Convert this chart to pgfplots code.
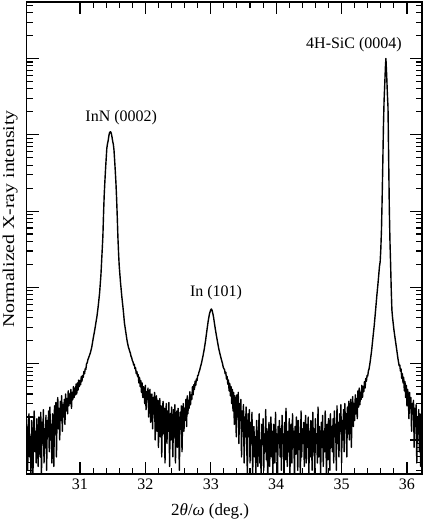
\documentclass[border=0pt]{standalone}
\usepackage{pgfplots}
\pgfplotsset{compat=1.18}
\usepackage{fontspec}
\setmainfont{Liberation Serif}
\newfontfamily\widefont[FakeStretch=1.2]{Liberation Serif}
\begin{document}
\begin{tikzpicture}
\begin{axis}[
  width=395.3pt, height=472pt, scale only axis,
  xmin=30.185, xmax=36.23,
  ymode=log, ymin=0.358, ymax=550000,
  xtick={31,32,33,34,35,36},
  minor x tick num=4,
  ytick={1,10,100,1000,10000,100000},
  yticklabels={},
  minor ytick={0.4,0.5,0.6,0.7,0.8,0.9,2,3,4,5,6,7,8,9,20,30,40,50,60,70,80,90,200,300,400,500,600,700,800,900,2000,3000,4000,5000,6000,7000,8000,9000,20000,30000,40000,50000,60000,70000,80000,90000,200000,300000,400000,500000},
  tick align=inside,
  xtick pos=both, ytick pos=both,
  major tick length=12pt, minor tick length=6pt,
  axis line style={line width=1.5pt},
  every tick/.style={line width=1.1pt, black},
  /pgf/number format/assume math mode=true,
  tick label style={font=\fontsize{16}{18}\selectfont},
  xticklabel style={yshift=-1pt},
  xlabel={2\textit{θ}/\textit{ω} (deg.)},
  xlabel style={at={(axis description cs:0.464,-0.08)}, anchor=center, font=\fontsize{17}{19}\selectfont},
  ylabel={\widefont Normalized X-ray intensity},
  ylabel style={at={(axis description cs:-0.042,0.54)}, anchor=center, font=\fontsize{16.5}{19}\selectfont},
  clip=true,
]
\addplot[black, line width=1.4pt, line join=round] table {
30.18 1.9
30.19 0.8
30.20 0.4
30.21 1.5
30.22 2.2
30.23 0.6
30.24 1.1
30.25 0.35
30.26 1.8
30.27 0.9
30.28 0.3
30.29 1.6
30.30 2.4
30.31 0.7
30.32 1.3
30.33 0.5
30.34 1.9
30.35 1.0
30.36 0.45
30.37 2.0
30.38 1.2
30.39 0.6
30.40 2.3
30.41 0.3
30.42 1.7
30.43 0.9
30.44 2.5
30.45 0.5
30.46 1.4
30.47 0.8
30.48 2.1
30.49 0.4
30.50 1.8
30.51 1.1
30.52 2.4
30.53 0.7
30.54 2.7
30.55 1.0
30.56 1.6
30.57 0.5
30.58 2.2
30.59 1.3
30.60 0.45
30.61 2.8
30.62 1.2
30.63 3.1
30.64 0.6
30.65 2.3
30.66 3.6
30.67 1.4
30.68 2.6
30.69 1.0
30.70 3.2
30.71 1.8
30.72 3.8
30.73 1.3
30.74 2.9
30.75 2.0
30.76 3.4
30.77 1.6
30.78 4.0
30.79 2.4
30.80 3.5
30.81 2.2
30.82 4.4
30.83 2.8
30.84 4.0
30.85 3.0
30.86 4.6
30.87 2.6
30.88 4.2
30.89 3.4
30.90 5.0
30.91 3.6
30.92 4.8
30.93 3.9
30.94 5.4
30.95 4.0
30.96 5.6
30.97 4.5
30.98 6.1
30.99 5.0
31.00 6.0
31.01 5.3
31.02 6.8
31.03 5.9
31.04 7.0
31.05 6.6
31.06 7.9
31.07 7.4
31.08 8.6
31.09 8.4
31.10 10.0
31.11 10.2
31.12 11.2
31.14 12.5
31.16 14.0
31.18 16.5
31.20 21
31.22 26
31.24 33
31.26 42
31.28 58
31.30 85
31.32 145
31.34 316
31.35 470
31.36 910
31.37 1600
31.38 2400
31.39 3470
31.40 4800
31.41 6600
31.42 7600
31.43 8300
31.44 9500
31.45 10500
31.46 10900
31.47 10900
31.48 10300
31.49 9300
31.50 8200
31.51 7500
31.52 6300
31.53 4600
31.54 3300
31.55 2300
31.56 1450
31.57 830
31.58 450
31.59 280
31.60 190
31.62 115
31.64 75
31.66 52
31.68 34
31.70 26
31.72 20
31.74 16.5
31.75 15.6
31.76 14.5
31.77 13.8
31.78 12.5
31.79 12.0
31.80 11.0
31.81 10.6
31.82 9.6
31.83 9.8
31.84 8.6
31.85 8.8
31.86 7.4
31.87 7.9
31.88 6.8
31.89 7.2
31.90 5.6
31.91 6.6
31.92 5.0
31.93 6.0
31.94 4.2
31.95 5.6
31.96 3.6
31.97 5.0
31.98 4.4
31.99 3.0
32.00 5.2
32.01 2.5
32.02 4.3
32.03 3.4
32.04 4.8
32.05 2.0
32.06 3.8
32.07 4.6
32.08 1.7
32.09 3.2
32.10 4.0
32.11 1.4
32.12 3.6
32.13 2.2
32.14 4.2
32.15 1.0
32.16 2.9
32.17 3.8
32.18 1.3
32.19 3.3
32.20 0.8
32.21 2.6
32.22 3.5
32.23 1.1
32.24 2.8
32.25 0.6
32.26 2.3
32.27 3.2
32.28 1.2
32.29 2.6
32.30 0.5
32.31 2.0
32.32 3.0
32.33 0.9
32.34 2.4
32.35 1.3
32.36 3.1
32.37 0.45
32.38 2.2
32.39 1.0
32.40 2.7
32.41 1.5
32.42 0.6
32.43 2.5
32.44 1.1
32.45 2.9
32.46 0.5
32.47 1.8
32.48 2.4
32.49 0.8
32.50 2.6
32.51 1.2
32.52 0.4
32.53 2.3
32.54 1.4
32.55 2.8
32.56 0.7
32.57 2.0
32.58 3.0
32.59 1.3
32.60 2.6
32.61 1.8
32.62 3.4
32.63 1.5
32.64 3.8
32.65 2.2
32.66 3.3
32.67 2.6
32.68 4.3
32.69 2.9
32.70 3.9
32.71 3.4
32.72 5.0
32.73 3.9
32.74 5.3
32.75 4.6
32.76 5.9
32.77 5.2
32.78 6.3
32.79 6.0
32.80 7.0
32.81 7.1
32.82 7.8
32.83 8.2
32.84 8.9
32.85 9.6
32.86 10.4
32.88 12.5
32.90 15.5
32.92 20
32.94 27
32.96 36
32.98 45
33.00 51
33.01 52
33.02 50
33.04 42
33.06 32
33.08 25
33.10 20
33.12 16
33.14 13.5
33.16 11.5
33.18 10.0
33.19 9.0
33.20 8.6
33.21 8.4
33.22 7.4
33.23 7.7
33.24 6.3
33.25 6.8
33.26 5.4
33.27 6.1
33.28 4.4
33.29 5.5
33.30 3.8
33.31 5.0
33.32 3.0
33.33 4.6
33.34 2.4
33.35 4.2
33.36 1.6
33.37 3.8
33.38 2.6
33.39 1.1
33.40 3.9
33.41 2.0
33.42 4.2
33.43 0.9
33.44 3.0
33.45 1.8
33.46 3.4
33.47 0.6
33.48 2.4
33.49 1.3
33.50 2.9
33.51 0.5
33.52 2.0
33.53 1.1
33.54 2.7
33.55 0.8
33.56 0.35
33.57 2.2
33.58 1.2
33.59 2.5
33.60 0.5
33.61 1.7
33.62 0.9
33.63 2.3
33.64 0.3
33.65 1.4
33.66 1.5
33.67 0.6
33.68 1.1
33.69 0.35
33.70 1.8
33.71 0.8
33.72 0.45
33.73 1.3
33.74 2.2
33.75 0.5
33.76 1.0
33.77 0.3
33.78 1.6
33.79 0.9
33.80 1.9
33.81 0.4
33.82 1.2
33.83 0.7
33.84 2.5
33.85 0.55
33.86 1.4
33.87 0.3
33.88 0.8
33.89 1.7
33.90 0.45
33.91 1.1
33.92 2.0
33.93 0.6
33.94 1.3
33.95 0.35
33.96 1.6
33.97 1.0
33.98 0.5
33.99 2.3
34.00 0.7
34.01 1.2
34.02 0.28
34.03 1.5
34.04 0.9
34.05 1.8
34.06 0.6
34.07 1.4
34.08 0.4
34.09 2.1
34.10 0.9
34.11 1.2
34.12 0.3
34.13 1.7
34.14 0.55
34.15 2.6
34.16 1.0
34.17 0.45
34.18 1.3
34.19 0.7
34.20 1.9
34.21 0.35
34.22 1.1
34.23 1.6
34.24 0.5
34.25 2.2
34.26 0.8
34.27 1.3
34.28 0.3
34.29 1.5
34.30 0.65
34.31 2.0
34.32 1.1
34.33 0.4
34.34 1.8
34.35 0.75
34.36 1.2
34.37 0.3
34.38 2.4
34.39 0.6
34.40 1.4
34.41 0.9
34.42 1.7
34.43 0.45
34.44 1.2
34.45 2.1
34.46 0.5
34.47 1.6
34.48 0.8
34.49 2.0
34.50 0.35
34.51 1.3
34.52 0.6
34.53 1.8
34.54 1.1
34.55 0.4
34.56 2.3
34.57 0.7
34.58 1.4
34.59 0.3
34.60 1.9
34.61 0.9
34.62 1.2
34.63 0.5
34.64 2.7
34.65 0.6
34.66 1.5
34.67 1.0
34.68 0.35
34.69 1.7
34.70 0.8
34.71 2.1
34.72 0.45
34.73 1.3
34.74 0.7
34.75 2.4
34.76 1.1
34.77 0.3
34.78 1.6
34.79 0.55
34.80 1.9
34.81 1.2
34.82 0.4
34.83 2.2
34.84 0.8
34.85 1.5
34.86 0.7
34.87 1.9
34.88 0.5
34.89 2.4
34.90 1.1
34.91 1.6
34.92 0.4
34.93 2.8
34.94 0.9
34.95 1.7
34.96 0.6
34.97 2.2
34.98 1.3
34.99 2.9
35.00 0.5
35.01 1.8
35.02 1.0
35.03 2.5
35.04 0.7
35.05 3.0
35.06 1.4
35.07 2.2
35.08 0.6
35.09 2.7
35.10 1.2
35.11 3.2
35.12 1.0
35.13 2.6
35.14 3.4
35.15 0.8
35.16 2.4
35.17 3.7
35.18 1.5
35.19 3.0
35.20 1.8
35.21 3.9
35.22 2.2
35.23 3.5
35.24 1.9
35.25 4.4
35.26 2.7
35.27 4.8
35.28 2.9
35.29 4.2
35.30 3.4
35.31 5.2
35.32 3.6
35.33 5.0
35.34 4.3
35.35 5.8
35.36 4.8
35.37 6.4
35.38 5.9
35.39 7.0
35.40 6.9
35.41 8.0
35.42 8.5
35.43 9.6
35.44 11.0
35.46 15
35.48 22
35.50 32
35.52 50
35.54 79
35.56 120
35.58 190
35.59 215
35.60 316
35.61 560
35.62 1400
35.63 4000
35.64 12600
35.65 28000
35.66 45000
35.67 76000
35.678 100000
35.69 60000
35.70 35000
35.71 23000
35.72 5000
35.73 1100
35.74 400
35.75 200
35.76 90
35.77 50
35.78 40
35.80 28
35.82 21
35.84 16
35.86 12
35.87 10.6
35.88 9.4
35.89 9.6
35.90 8.0
35.91 8.5
35.92 6.4
35.93 7.4
35.94 5.6
35.95 6.6
35.96 4.4
35.97 5.8
35.98 3.6
35.99 5.2
36.00 2.8
36.01 4.6
36.02 3.8
36.03 1.9
36.04 4.2
36.05 2.6
36.06 3.6
36.07 1.3
36.08 3.0
36.09 2.2
36.10 3.3
36.11 0.8
36.12 2.6
36.13 1.5
36.14 2.9
36.15 0.5
36.16 2.0
36.17 1.2
36.18 2.5
36.19 0.7
36.20 2.2
36.21 0.45
36.22 1.8
36.23 1.0
36.24 2.3
};
\node[font=\fontsize{16}{18}\selectfont] at (axis cs:31.63,16600) {InN (0002)};
\node[font=\fontsize{16}{18}\selectfont] at (axis cs:33.08,85) {In (101)};
\node[font=\fontsize{16}{18}\selectfont] at (axis cs:35.19,151000) {4H-SiC (0004)};
\end{axis}
\pgfresetboundingbox
\path ([xshift=-26.7pt,yshift=-50pt]current axis.south west) rectangle ([xshift=2pt,yshift=2pt]current axis.north east);
\end{tikzpicture}
\end{document}
